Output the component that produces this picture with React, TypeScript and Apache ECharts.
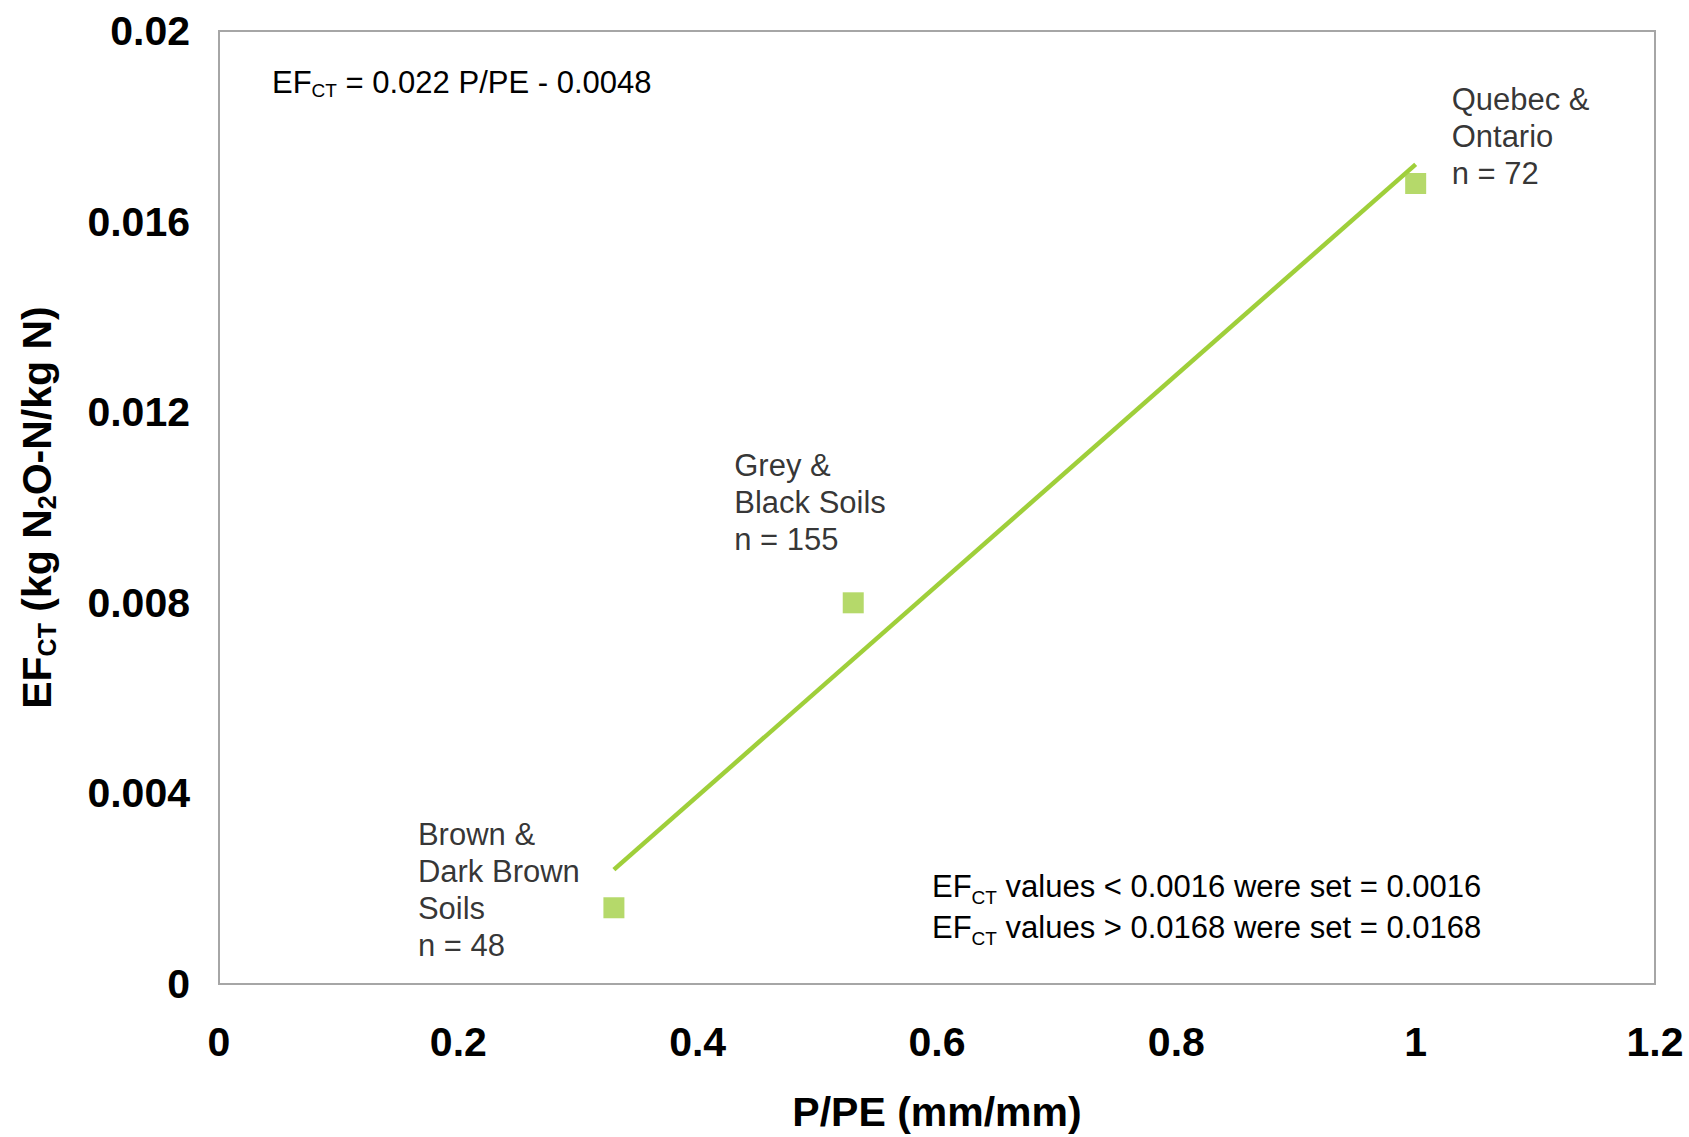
import React, { useEffect, useRef } from "react";
import * as echarts from "echarts";

// ---- data ----
const pointNames = ["Brown &\nDark Brown\nSoils\nn = 48", "Grey &\nBlack Soils\nn = 155", "Quebec &\nOntario\nn = 72"];
const pointX = [0.33, 0.53, 1.0];
const pointY = [0.0016, 0.008, 0.0168];
const trendX = [0.33, 1.0];
const trendY = [0.0024, 0.0172];
const xTicks = { min: 0, max: 1.2, interval: 0.2 };
const yTicks = { min: 0, max: 0.02, interval: 0.004 };
const labelOffsets = [[-196, -18], [-119, -100], [36, -47]];

const FONT = "'Liberation Sans', Arial, sans-serif";
const GREEN = "#a3cf45";
const LINE_GREEN = "#9fcf3a";

export default function App() {
  const ref = useRef<HTMLDivElement>(null);
  useEffect(() => {
    document.body.style.margin = "0";
    const chart = echarts.init(ref.current!, null, { renderer: "svg" });
    const subRich = (size: number, lh: number, bold: boolean) => ({
      a: { fontSize: size, fontFamily: FONT, fontWeight: bold ? "bold" : "normal", color: "#000", lineHeight: lh },
      s: { fontSize: Math.round(size * 0.62), fontFamily: FONT, fontWeight: bold ? "bold" : "normal", color: "#000", lineHeight: Math.round(size * 0.62), verticalAlign: "bottom" },
    });
    chart.setOption({
      animation: false,
      grid: { left: 219, top: 31, width: 1436, height: 958, show: true, borderColor: "#a6a6a6", borderWidth: 2, backgroundColor: "#fff" },
      xAxis: {
        type: "value",
        min: xTicks.min, max: xTicks.max, interval: xTicks.interval,
        axisLine: { show: false }, axisTick: { show: false }, splitLine: { show: false },
        axisLabel: { fontSize: 41, fontWeight: "bold", fontFamily: FONT, color: "#000", margin: 37 },
        name: "P/PE (mm/mm)", nameLocation: "middle", nameGap: 107,
        nameTextStyle: { fontSize: 41, fontWeight: "bold", fontFamily: FONT, color: "#000" },
      },
      yAxis: {
        type: "value",
        min: yTicks.min, max: yTicks.max, interval: yTicks.interval,
        axisLine: { show: false }, axisTick: { show: false }, splitLine: { show: false },
        axisLabel: { fontSize: 41, fontWeight: "bold", fontFamily: FONT, color: "#000", margin: 29 },
        name: "{a|EF}{s|CT}{a| (kg N}{s|2}{a|O-N/kg N)}", nameLocation: "middle", nameGap: 160,
        nameTextStyle: { fontSize: 41, fontWeight: "bold", fontFamily: FONT, color: "#000", rich: subRich(41, 44, true) },
      },
      series: [
        {
          type: "line",
          data: trendX.map((x, i) => [x, trendY[i]]),
          showSymbol: false,
          lineStyle: { color: LINE_GREEN, width: 4.5 },
          z: 2,
        },
        {
          type: "scatter",
          symbol: "rect",
          symbolSize: 21,
          itemStyle: { color: GREEN },
          z: 3,
          data: pointX.map((x, i) => ({
            value: [x, pointY[i]],
            name: pointNames[i],
            label: {
              show: true,
              position: "inside",
              align: "left",
              verticalAlign: "middle",
              offset: labelOffsets[i],
              formatter: "{b}",
              fontSize: 31,
              lineHeight: 37,
              fontFamily: FONT,
              color: "#000",
            },
          })),
        },
      ],
      graphic: [
        {
          type: "text",
          x: 272,
          y: 82,
          style: {
            text: "{a|EF}{s|CT}{a| = 0.022 P/PE - 0.0048}",
            rich: subRich(31, 36, false),
            align: "left",
            verticalAlign: "middle",
          },
        },
        {
          type: "text",
          x: 932,
          y: 907,
          style: {
            text: "{a|EF}{s|CT}{a| values < 0.0016 were set = 0.0016}\n{a|EF}{s|CT}{a| values > 0.0168 were set = 0.0168}",
            rich: subRich(31, 41, false),
            align: "left",
            verticalAlign: "middle",
          },
        },
      ],
    });
    return () => chart.dispose();
  }, []);
  return <div ref={ref} style={{ width: 1689, height: 1137 }} />;
}
